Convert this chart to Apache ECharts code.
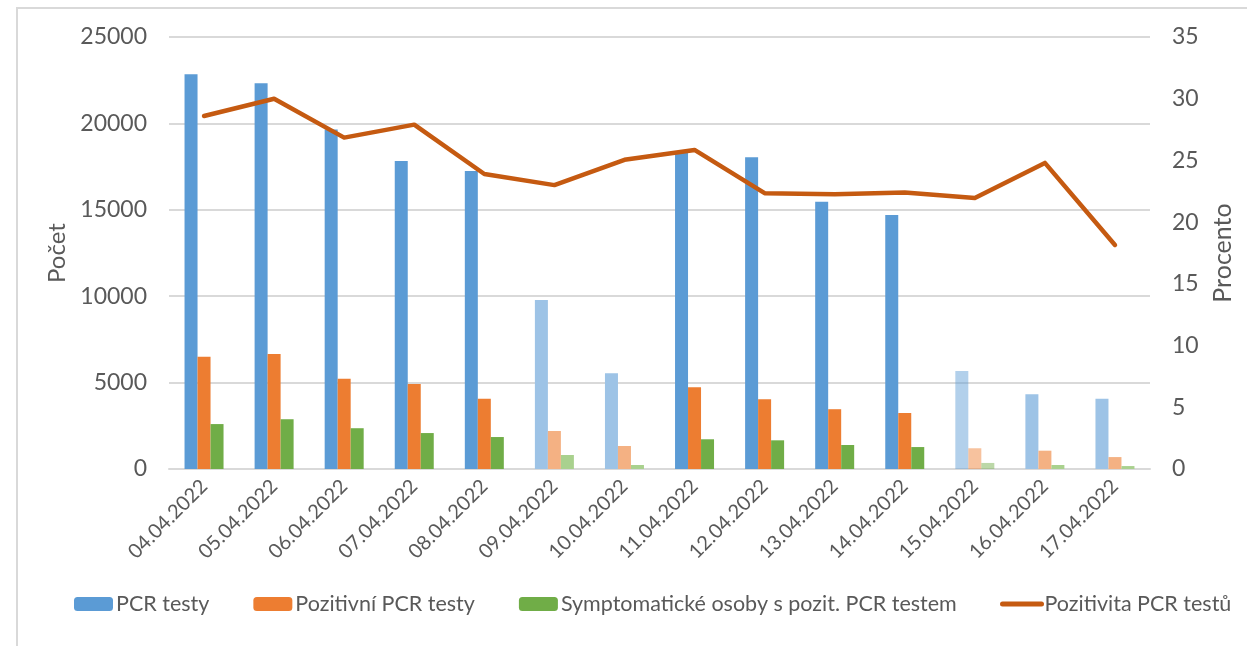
<!DOCTYPE html>
<html>
<head>
<meta charset="utf-8">
<script src="https://cdn.jsdelivr.net/npm/echarts@6/dist/echarts.min.js"></script>
<style>
  html, body { margin: 0; padding: 0; background: #fff; }
  #chart { width: 1247px; height: 646px; position: relative; }
  #frame {
    position: absolute; left: 16px; top: 7px; width: 1300px; height: 700px;
    border-left: 2px solid #d9d9d9; border-top: 2px solid #d9d9d9;
    pointer-events: none;
  }
</style>
</head>
<body>
<div id="chart"></div>
<div id="frame"></div>
<script>
// Data
const dates = ['04.04.2022', '05.04.2022', '06.04.2022', '07.04.2022', '08.04.2022', '09.04.2022', '10.04.2022',
    '11.04.2022', '12.04.2022', '13.04.2022', '14.04.2022', '15.04.2022', '16.04.2022', '17.04.2022'];
const pcrTests = [22850, 22320, 19650, 17820, 17250, 9780, 5540, 18300, 18040, 15470, 14700, 5670, 4320, 4070];
const positiveTests = [6500, 6650, 5230, 4920, 4070, 2200, 1330, 4730, 4030, 3460, 3240, 1200, 1060, 690];
const symptomatic = [2600, 2880, 2360, 2080, 1850, 810, 230, 1720, 1660, 1390, 1270, 350, 230, 170];
const positivity = [28.6, 30.0, 26.85, 27.9, 23.9, 23.0, 25.05, 25.85, 22.35, 22.25, 22.4, 21.95, 24.8, 18.15];

// Weekend / holiday days drawn lighter (15.04 is lightest)
const lightDays = [5, 6, 12, 13];
const palestDay = 11;

const chart = echarts.init(document.getElementById('chart'));

const FONT = 'Lato';
const TXT = '#595959';

function styled(values, base, light) {
    return values.map((v, i) => {
        if (i === palestDay) return { value: v, itemStyle: { color: base, opacity: 0.47 } };
        if (lightDays.includes(i)) return { value: v, itemStyle: { color: light } };
        return v;
    });
}

const legendBase = {
    top: 593,
    padding: 0,
    itemWidth: 39,
    itemHeight: 14,
    itemGap: 44,
    textStyle: { fontFamily: FONT, fontSize: 21.5, color: TXT, padding: [0, 0, 0, -2] }
};

const option = {
    backgroundColor: '#fff',
    animation: false,
    textStyle: { fontFamily: FONT },
    grid: { left: 169, right: 97, top: 37, bottom: 177 },
    legend: [
        Object.assign({}, legendBase, {
            left: 74,
            data: ['PCR testy', 'Pozitivní PCR testy', 'Symptomatické osoby s pozit. PCR testem']
        }),
        Object.assign({}, legendBase, {
            left: 1000,
            data: [{
                name: 'Pozitivita PCR testů',
                itemStyle: { color: 'rgba(0,0,0,0)', borderWidth: 0 },
                lineStyle: { width: 5, cap: 'round', color: '#c55a11' }
            }]
        })
    ],
    xAxis: {
        type: 'category',
        data: dates,
        axisLine: { lineStyle: { color: '#d9d9d9', width: 2 } },
        axisTick: { show: false },
        axisLabel: { rotate: 45, color: TXT, fontSize: 20, fontFamily: FONT, margin: 14, interval: 0 }
    },
    yAxis: [
        {
            type: 'value',
            min: 0, max: 25000, interval: 5000,
            name: 'Počet',
            nameLocation: 'middle',
            nameRotate: 90,
            nameGap: 92,
            nameTextStyle: { fontSize: 24, color: TXT, fontFamily: FONT },
            axisLine: { show: false },
            axisTick: { show: false },
            axisLabel: { fontSize: 23, color: TXT, fontFamily: FONT, margin: 22, formatter: (v) => String(v) },
            splitLine: { lineStyle: { color: '#d9d9d9', width: 2 } }
        },
        {
            type: 'value',
            min: 0, max: 35, interval: 5,
            name: 'Procento',
            nameLocation: 'middle',
            nameRotate: 90,
            nameGap: 60,
            nameTextStyle: { fontSize: 25, color: TXT, fontFamily: FONT },
            axisLine: { show: false },
            axisTick: { show: false },
            axisLabel: { fontSize: 23, color: TXT, fontFamily: FONT, margin: 22 },
            splitLine: { show: false }
        }
    ],
    series: [
        {
            name: 'PCR testy', type: 'bar', barWidth: 13, barGap: '0%',
            itemStyle: { color: '#5b9bd5' },
            data: styled(pcrTests, '#5b9bd5', '#9dc3e6')
        },
        {
            name: 'Pozitivní PCR testy', type: 'bar', barWidth: 13, barGap: '0%',
            itemStyle: { color: '#ed7d31' },
            data: styled(positiveTests, '#ed7d31', '#f4b183')
        },
        {
            name: 'Symptomatické osoby s pozit. PCR testem', type: 'bar', barWidth: 13, barGap: '0%',
            itemStyle: { color: '#70ad47' },
            data: styled(symptomatic, '#70ad47', '#a9d18e')
        },
        {
            name: 'Pozitivita PCR testů', type: 'line', yAxisIndex: 1,
            symbol: 'none',
            itemStyle: { color: '#c55a11' },
            lineStyle: { color: '#c55a11', width: 4.5, cap: 'round', join: 'round' },
            z: 10,
            data: positivity
        }
    ]
};

chart.setOption(option);
</script>
</body>
</html>
